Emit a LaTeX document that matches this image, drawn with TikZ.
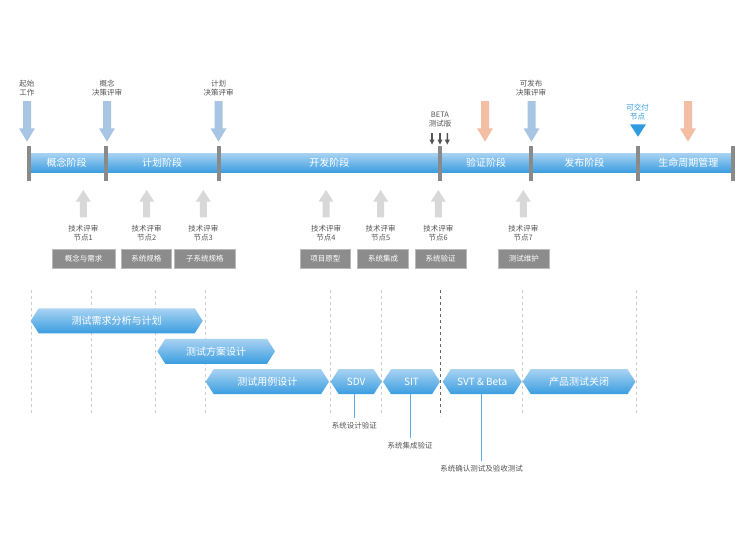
\documentclass[tikz,border=0pt]{standalone}
\usepackage{fontspec}
\setmainfont{Noto Sans CJK SC}
\pgfdeclarelayer{bg}\pgfsetlayers{bg,main}
\definecolor{barTop}{HTML}{A9D3F2}
\definecolor{barBot}{HTML}{3A9DE0}
\definecolor{sepGray}{HTML}{8A8A8A}
\definecolor{arrBlue}{HTML}{A8C6E4}
\definecolor{arrSalmon}{HTML}{F3BEA3}
\definecolor{arrGray}{HTML}{D8D8D8}
\definecolor{txtGray}{HTML}{555555}
\definecolor{boxGray}{HTML}{8C8C8C}
\definecolor{delivBlue}{HTML}{2F9BE0}
\definecolor{lineBlue}{HTML}{5AADE8}
\definecolor{dashGray}{HTML}{CCCCCC}
\definecolor{dashDark}{HTML}{666666}
\tikzset{
 lbl/.style={font=\fontsize{7.5}{9}\selectfont, text=txtGray, align=center, inner sep=0pt},
 sublbl/.style={lbl, inner sep=4pt},
 phase/.style={font=\fontsize{10}{12}\selectfont, text=white, inner sep=0pt},
 sepbar/.style={fill=sepGray, minimum width=4, minimum height=35, inner sep=0, outer sep=0, draw=none},
 graybox/.style={fill=boxGray, draw=boxGray!60, line width=0.5, text=white, font=\fontsize{7.5}{9}\selectfont, minimum height=19, inner sep=0, outer sep=0},
 hexnode/.style={text=white, font=\fontsize{10}{12}\selectfont, minimum height=25, inner sep=0, outer sep=0},
 hexshade/.style={top color=barTop, bottom color=barBot, draw=none},
 vdash/.style={dashGray, line width=0.6, dash pattern=on 3pt off 3pt},
 vdashdark/.style={dashDark, line width=0.6, dash pattern=on 3pt off 3pt},
 conn/.style={lineBlue, line width=1},
}
% x, ytail, ytip, ybase, shaft half, head half, colour
\newcommand\blockarrow[7]{\fill[#7] (#1-#5,#2) -- (#1+#5,#2) -- (#1+#5,#4) -- (#1+#6,#4) -- (#1,#3) -- (#1-#6,#4) -- (#1-#5,#4) -- cycle;}
% name, x1, x2, yc, text
\newcommand\hexbar[5]{%
 \node[hexnode, minimum width=#3-#2] (#1) at ({(#2+#3)/2},#4) {#5};
 \begin{pgfonlayer}{bg}
 \shade[hexshade] (#1.west) -- ([xshift=8pt]#1.north west) -- ([xshift=-8pt]#1.north east) -- (#1.east) -- ([xshift=-8pt]#1.south east) -- ([xshift=8pt]#1.south west) -- cycle;
 \end{pgfonlayer}}
\begin{document}
\begin{tikzpicture}[x=1pt,y=-1pt]
\useasboundingbox (0,0) rectangle (750,533);
\begin{pgfonlayer}{bg}
 \fill[white] (0,0) rectangle (750,533);
 \foreach \xx in {31,91.5,155,205.7,330.7,381,522.7,636.5}
   \draw[vdash] (\xx,290) -- (\xx,416);
 \draw[vdashdark] (440.5,290) -- (440.5,416);
\end{pgfonlayer}

% phase bar
\shade[hexshade] (30.7,153) rectangle (731,172.5);
\foreach \xx/\nm in {28.7/s1,106.3/s2,218.7/s3,440.3/s4,531.2/s5,638.3/s6,732.7/s7}
  \node[sepbar] (\nm) at (\xx,163.5) {};
\node[phase] (p1) at (66.7,163) {概念阶段};
\node[phase] (p2) at (162,163) {计划阶段};
\node[phase] (p3) at (329.3,163) {开发阶段};
\node[phase] (p4) at (486,163) {验证阶段};
\node[phase] (p5) at (584.3,163) {发布阶段};
\node[phase] (p6) at (688.3,163) {生命周期管理};

% top labels and arrows
\node[lbl] (t1) at (27,88.5) {起始\\工作};
\node[lbl] (t2) at (107,88.5) {概念\\决策评审};
\node[lbl] (t3) at (218.5,88.5) {计划\\决策评审};
\node[lbl] (t5) at (531,88.5) {可发布\\决策评审};
\node[lbl] (t4) at (440,119.7) {BETA\\测试版};
\node[lbl, text=delivBlue] (t6) at (637.5,112.2) {可交付\\节点};
\blockarrow{27}{101}{141.7}{128.3}{4}{8}{arrBlue}
\blockarrow{107}{101}{141.7}{128.3}{4}{8}{arrBlue}
\blockarrow{218.5}{101}{141.7}{128.3}{4}{8}{arrBlue}
\blockarrow{531.5}{101}{141.7}{128.3}{4}{8}{arrBlue}
\blockarrow{485}{101}{141.7}{128.3}{4}{8}{arrSalmon}
\blockarrow{688}{101}{141.7}{128.3}{4}{8}{arrSalmon}
\blockarrow{432}{133}{144.5}{139.5}{0.8}{2.6}{txtGray}
\blockarrow{440}{133}{144.5}{139.5}{0.8}{2.6}{txtGray}
\blockarrow{447.3}{133}{144.5}{139.5}{0.8}{2.6}{txtGray}
\fill[delivBlue] (630,124.3) -- (646,124.3) -- (638,136.7) -- cycle;

% review arrows, labels and boxes
\foreach \xx/\k in {83.3/1,146.7/2,203.3/3,326/4,380.7/5,438.3/6,523.3/7}{
  \blockarrow{\xx}{217.3}{190}{201.7}{3.5}{7.5}{arrGray}
  \node[lbl] (r\k) at (\xx,233.5) {技术评审\\节点\k};
}
\node[graybox, minimum width=63.5] (b1) at (83.5,258.8) {概念与需求};
\node[graybox, minimum width=50.7] (b2) at (146.3,258.8) {系统规格};
\node[graybox, minimum width=61.7] (b3) at (204.8,258.8) {子系统规格};
\node[graybox, minimum width=50.7] (b4) at (325.3,258.8) {项目原型};
\node[graybox, minimum width=50.7] (b5) at (383,258.8) {系统集成};
\node[graybox, minimum width=51] (b6) at (440.5,258.8) {系统验证};
\node[graybox, minimum width=51] (b7) at (523.8,258.8) {测试维护};

% test activities
\hexbar{h1}{30.7}{202.7}{320.8}{测试需求分析与计划}
\hexbar{h2}{157.3}{275}{351.3}{测试方案设计}
\hexbar{h3}{205.7}{329}{381.7}{测试用例设计}
\hexbar{sdv}{330.7}{381.7}{381.7}{SDV}
\hexbar{sit}{383}{440}{381.7}{SIT}
\hexbar{svt}{442.7}{521.7}{381.7}{SVT \& Beta}
\hexbar{h7}{522.7}{635.5}{381.7}{产品测试关闭}

\node[sublbl] (sdvl) at (354.3,425.7) {系统设计验证};
\node[sublbl] (sitl) at (410,445.7) {系统集成验证};
\node[sublbl] (svtl) at (481.7,469) {系统确认测试及验收测试};
\draw[conn] (sdv.south -| sdvl.north) -- (sdvl.north);
\draw[conn] (sit.south -| sitl.north) -- (sitl.north);
\draw[conn] (svt.south -| svtl.north) -- (svtl.north);
\end{tikzpicture}
\end{document}
